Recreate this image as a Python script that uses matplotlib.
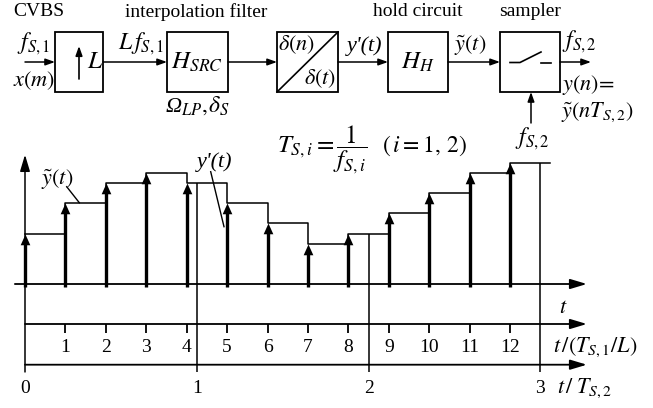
import numpy as np
import matplotlib.pyplot as plt
from matplotlib.patches import Rectangle

plt.rcParams['font.family'] = ['Liberation Serif', 'DejaVu Serif']
plt.rcParams['mathtext.fontset'] = 'stix'

# upsampled signal y'(t) at t = k * T_S1/L (amplitude in arbitrary units)
k_idx = np.arange(13)
y_up = [5, 8, 10, 11, 10, 8, 6, 4, 5, 7, 9, 11, 12]
ratio = 4.25          # T_S2 expressed in T_S1/L
n_out = [0, 1, 2, 3]  # output sample instants t/T_S2
tick_lbl = [str(k) for k in range(1, 13)]

W, H = 653, 408
fig = plt.figure(figsize=(W / 100, H / 100), dpi=100)

# pixel axes for the block diagram
ax = fig.add_axes([0, 0, 1, 1])
ax.set_xlim(0, W)
ax.set_ylim(H, 0)
ax.axis('off')

# data axes for the time plot
x0, dx, y0, dy = 25, 40.42, 284, 10.1
ax2 = fig.add_axes([0, 0, 1, 1])
ax2.set_xlim(-x0 / dx, (W - x0) / dx)
ax2.set_ylim((y0 - H) / dy, y0 / dy)
ax2.axis('off')
ax2.patch.set_alpha(0)

k = 'black'
fs = 14


def arrow(a, p, q, lw=1.1, hl=0.7, hw=0.25, ms=8):
    a.annotate('', xy=q, xytext=p,
               arrowprops=dict(arrowstyle='-|>,head_length=%g,head_width=%g' % (hl, hw),
                               lw=lw, color=k, shrinkA=0, shrinkB=0, mutation_scale=ms))


# ---- block diagram ----
boxes = [(55, 48), (167, 61), (277, 61), (388, 60), (500, 60)]
for bx, bw in boxes:
    ax.add_patch(Rectangle((bx, 32), bw, 60, fill=False, lw=1.3, color=k))

for p, q in [(25, 55), (103, 167), (228, 277), (338, 388), (448, 500), (560, 591)]:
    arrow(ax, (p, 62), (q, 62))
arrow(ax, (531, 123), (531, 92))

# up arrow in L box
arrow(ax, (79, 79), (79, 46), lw=1.2)
ax.text(95, 62, r'$L$', fontsize=18, ha='center', va='center')

# delta box diagonal
ax.plot([277, 338], [92, 32], color=k, lw=1.2)
ax.text(297, 45, r'$\delta(n)$', fontsize=16, ha='center', va='center')
ax.text(320, 79, r'$\delta(t)$', fontsize=16, ha='center', va='center')

# sampler switch
ax.plot([510, 520, 541], [62.5, 62.5, 52], color=k, lw=1.2)
ax.plot([541, 551], [62.5, 62.5], color=k, lw=1.2)

ax.text(13, 12, 'CVBS', fontsize=14, ha='left', va='center')
ax.text(196, 12, 'interpolation filter', fontsize=14, ha='center', va='center')
ax.text(418, 12, 'hold circuit', fontsize=14, ha='center', va='center')
ax.text(530, 12, 'sampler', fontsize=14, ha='center', va='center')

ax.text(34, 44, r'$f_{S,1}$', fontsize=17, ha='center', va='center')
ax.text(34, 81, r'$x(m)$', fontsize=16, ha='center', va='center')
ax.text(141, 44, r'$L\,f_{S,1}$', fontsize=17, ha='center', va='center')
ax.text(197, 62, r'$H_{SRC}$', fontsize=18, ha='center', va='center')
ax.text(166, 112, 'Ω', fontsize=16, style='italic', ha='left', va='baseline')
ax.text(181, 112, r'${}_{LP},\!\delta_S$', fontsize=17, ha='left', va='baseline')
ax.text(365, 46, "y'(t)", fontsize=16, style='italic', ha='center', va='center')
ax.text(418, 62, r'$H_H$', fontsize=18, ha='center', va='center')
ax.text(470, 46, r'$\tilde{y}(t)$', fontsize=16, ha='center', va='center')
ax.text(562, 42, r'$f_{S,2}$', fontsize=17, ha='left', va='center')
ax.text(562, 85, r'$y(n)\!=$', fontsize=16, ha='left', va='center')
ax.text(561, 112, r'$\tilde{y}(nT_{S,2})$', fontsize=16, ha='left', va='center')
ax.text(532, 139, r'$f_{S,2}$', fontsize=17, ha='center', va='center')

ax.text(277, 150, r'$T_{S,i} = \dfrac{1}{f_{S,i}}$', fontsize=18, ha='left', va='center')
ax.text(382, 146, r'$(\,i=1,\,2)$', fontsize=17, ha='left', va='center')

# ---- time plot ----
xs = np.arange(len(y_up) + 1)
ax2.step(xs, y_up + [y_up[-1]], where='post', color=k, lw=1.1)

yv = np.array(y_up, dtype=float)
ax2.vlines(k_idx, -0.3, yv - 0.5, color=k, lw=2.4, capstyle='butt')
head = [(-0.45, -1.0), (0.45, -1.0), (0.0, 0.0)]
ax2.plot(k_idx, yv, ls='none', marker=head, ms=15.5, color=k, mew=0)

# held values read by the sampler at t = n*T_S2
t_out = np.array(n_out[1:]) * ratio
held = [y_up[int(n * ratio)] for n in n_out[1:]]
ax2.vlines(t_out, -8.71, held, color=k, lw=1.1)

# axes
ymin_ax = -8.71
arrow(ax2, (0, ymin_ax), (0, 12.8), lw=1.1, hl=1.0, hw=0.3, ms=10)
arrow(ax2, (-0.25, 0), (13.9, 0), lw=1.3, hl=1.0, hw=0.3, ms=10)
arrow(ax2, (0, -3.96), (13.9, -3.96), lw=1.3, hl=1.0, hw=0.3, ms=10)
arrow(ax2, (0, -7.99), (13.9, -7.99), lw=1.3, hl=1.0, hw=0.3, ms=10)

ax2.vlines(k_idx[1:], -3.96, -4.85, color=k, lw=1.3)
for kk, lb in zip(k_idx[1:], tick_lbl):
    ax2.text(kk, -6.24, lb, fontsize=fs, ha='center', va='center')
for n in n_out:
    ax2.text(n * ratio, -10.3, str(n), fontsize=fs, ha='center', va='center')

ax2.text(13.2, -2.4, r'$t$', fontsize=16, ha='left', va='center')
ax2.text(13.06, -6.3, r'$t\,/(T_{S,1}/L)$', fontsize=16, ha='left', va='center')
ax2.text(13.16, -10.3, r'$t\,/\;T_{S,2}$', fontsize=16, ha='left', va='center')

# labels with leader lines
ax.text(57, 180, r'$\tilde{y}(t)$', fontsize=16, ha='center', va='center')
ax.plot([66.7, 79.3], [186.7, 202.7], color=k, lw=1.0)
ax.text(215, 162, "y'(t)", fontsize=16, style='italic', ha='center', va='center')
ax.plot([210.7, 224], [171.7, 226.7], color=k, lw=1.0)

fig.savefig('out.png', dpi=100)
